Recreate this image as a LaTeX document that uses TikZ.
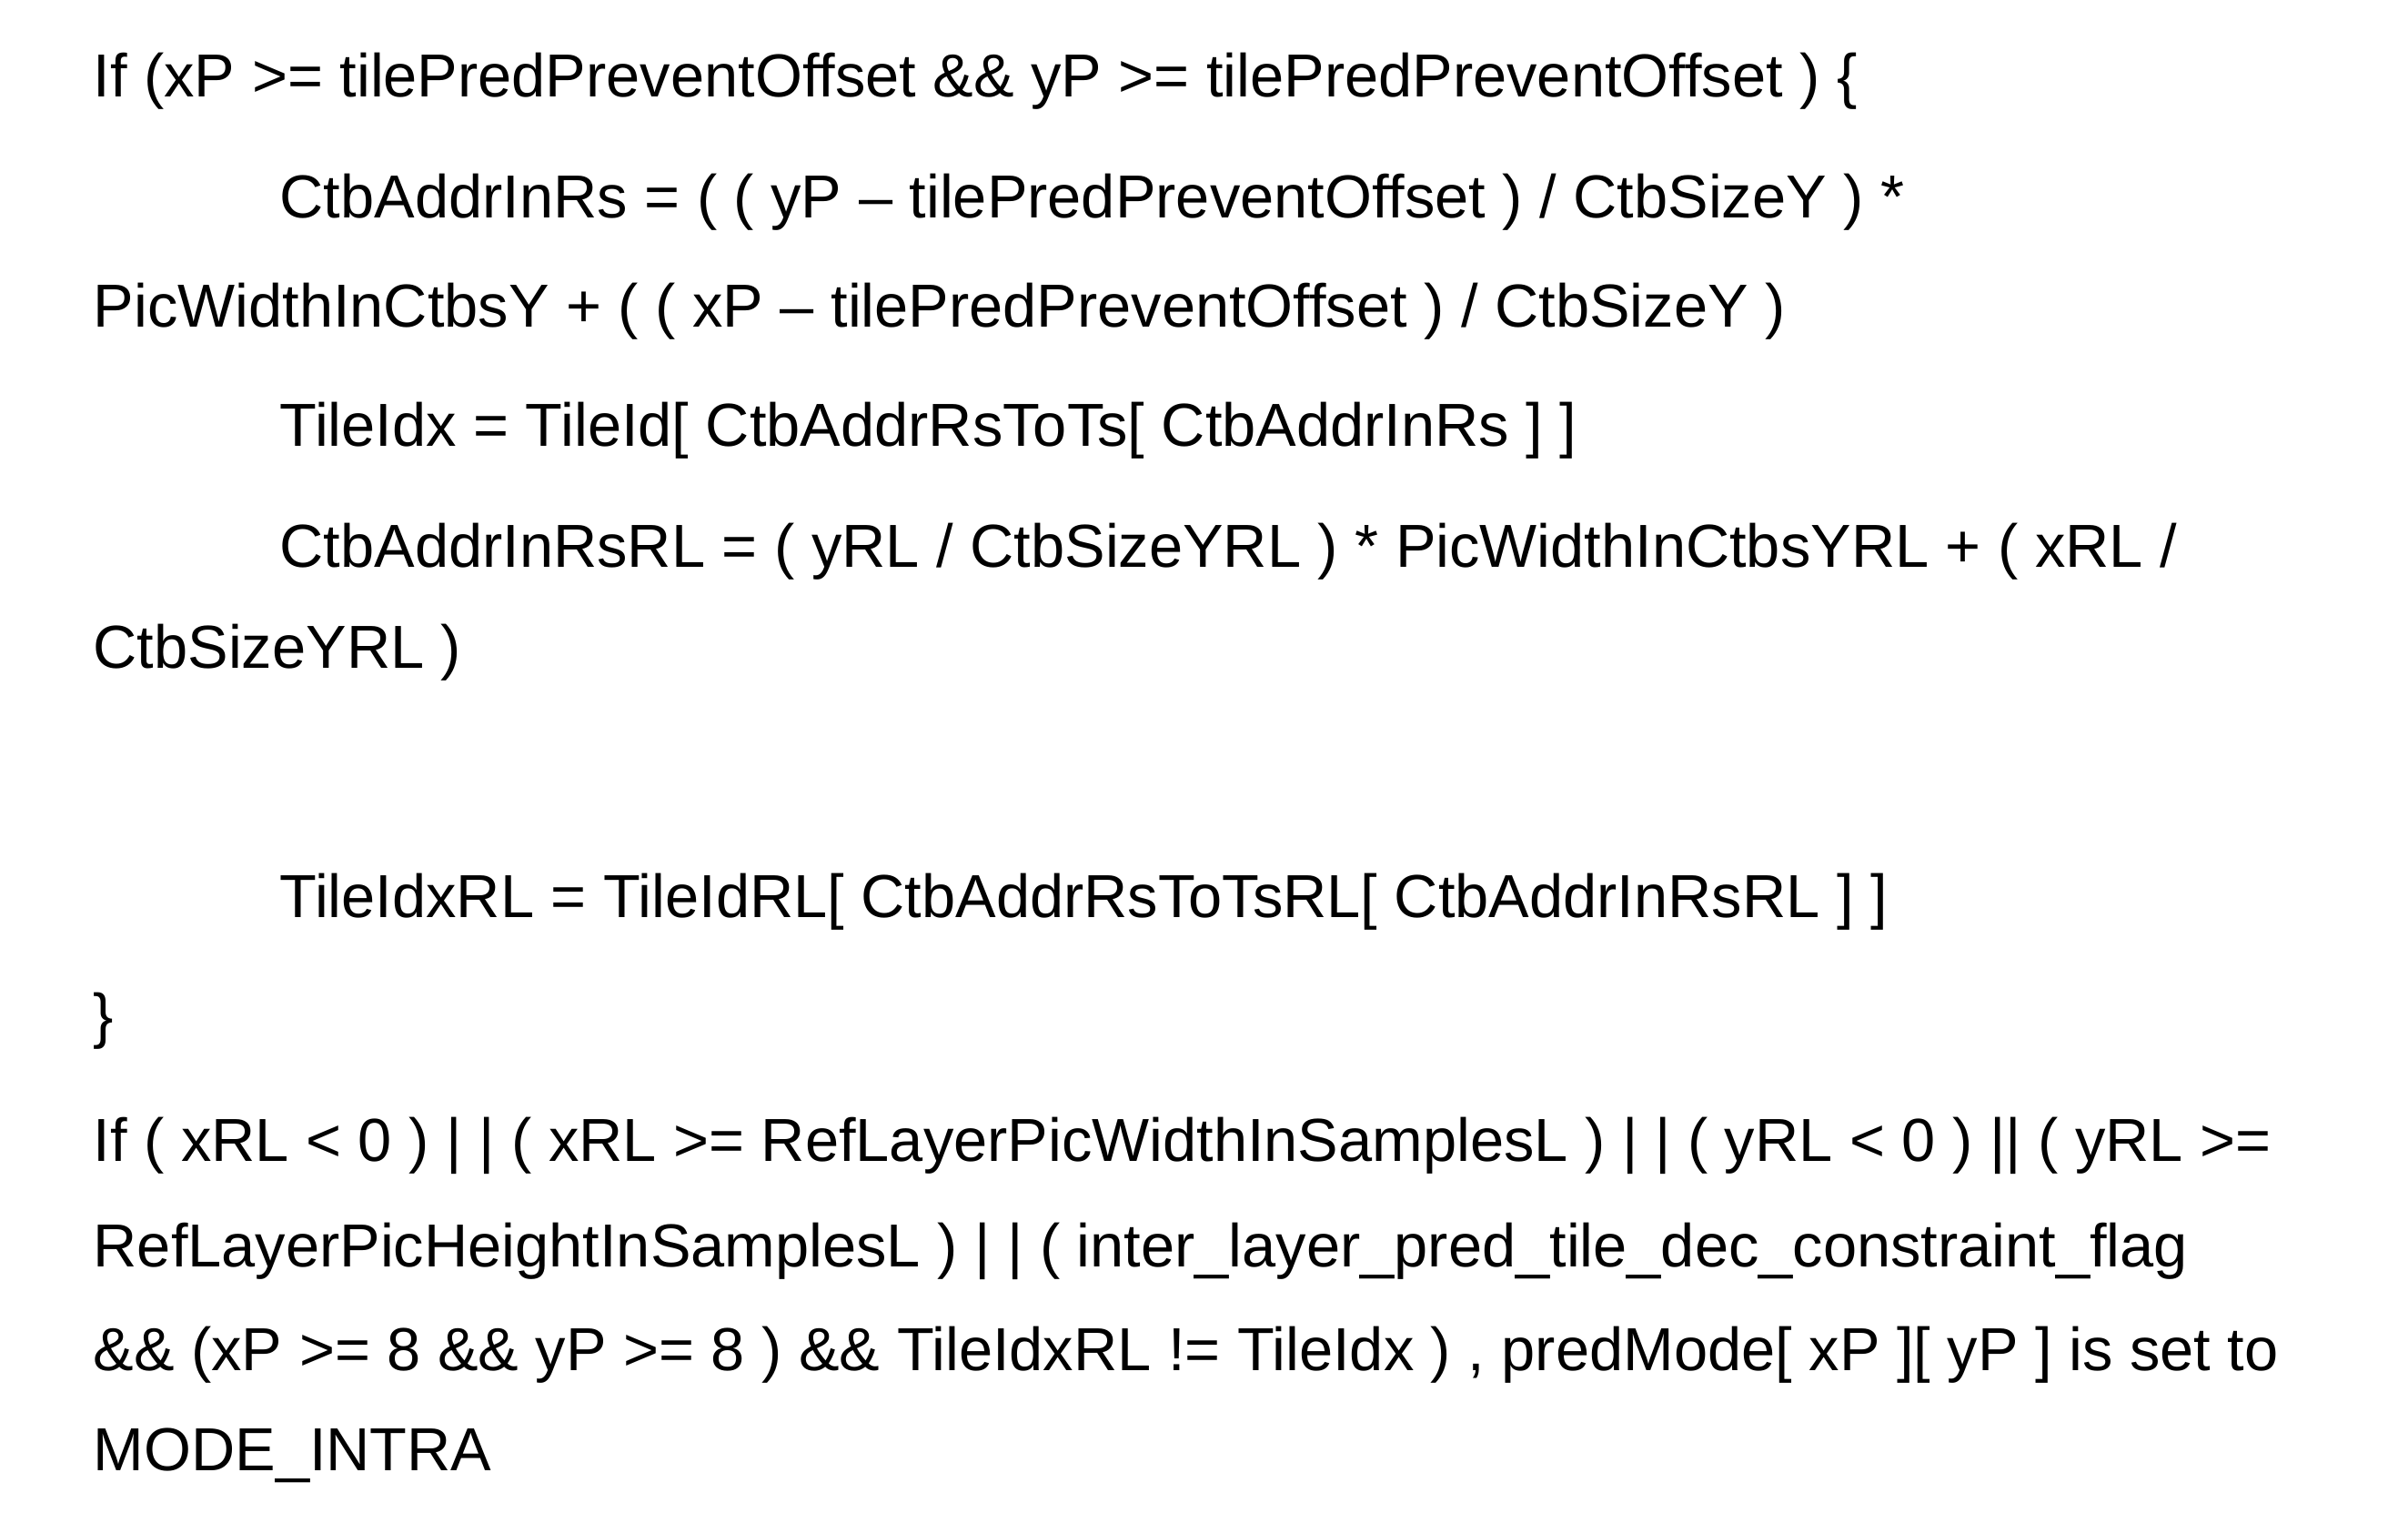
\documentclass[tikz,border=0pt]{standalone}
\usepackage{fontspec}
\setmainfont{Liberation Sans}
\usetikzlibrary{positioning}

\begin{document}
\begin{tikzpicture}[y=-1cm,
            every node/.style={anchor=west, inner sep=0pt, font=\fontsize{19}{23}\selectfont}]
        \useasboundingbox (0,0) rectangle (26.47,16.73);
        \node (l1) at (1.02,0.89) {If (xP >= tilePredPreventOffset \&\& yP >= tilePredPreventOffset ) \{};
        \node (l2) at (3.07,2.22) {CtbAddrInRs = ( ( yP – tilePredPreventOffset ) / CtbSizeY ) *};
        \node (l3) at (1.02,3.42) {PicWidthInCtbsY + ( ( xP – tilePredPreventOffset ) / CtbSizeY )};
        \node (l4) at (3.07,4.73) {TileIdx = TileId[ CtbAddrRsToTs[ CtbAddrInRs ] ]};
        \node (l5) at (3.07,6.06) {CtbAddrInRsRL = ( yRL / CtbSizeYRL ) * PicWidthInCtbsYRL + ( xRL /};
        \node (l6) at (1.02,7.17) {CtbSizeYRL )};
        \node (l7) at (3.07,9.91) {TileIdxRL = TileIdRL[ CtbAddrRsToTsRL[ CtbAddrInRsRL ] ]};
        \node (l8) at (1.02,11.22) {\}};
        \node (l9) at (1.02,12.59) {If ( xRL < 0 ) | | ( xRL >= RefLayerPicWidthInSamplesL ) | | ( yRL < 0 ) || ( yRL >=};
        \node (l10) at (1.02,13.75) {RefLayerPicHeightInSamplesL ) | | ( inter\_layer\_pred\_tile\_dec\_constraint\_flag};
        \node (l11) at (1.02,14.89) {\&\& (xP >= 8 \&\& yP >= 8 ) \&\& TileIdxRL != TileIdx ) , predMode[ xP ][ yP ] is set to};
        \node (l12) at (1.02,16.00) {MODE\_INTRA};
\end{tikzpicture}
\end{document}
